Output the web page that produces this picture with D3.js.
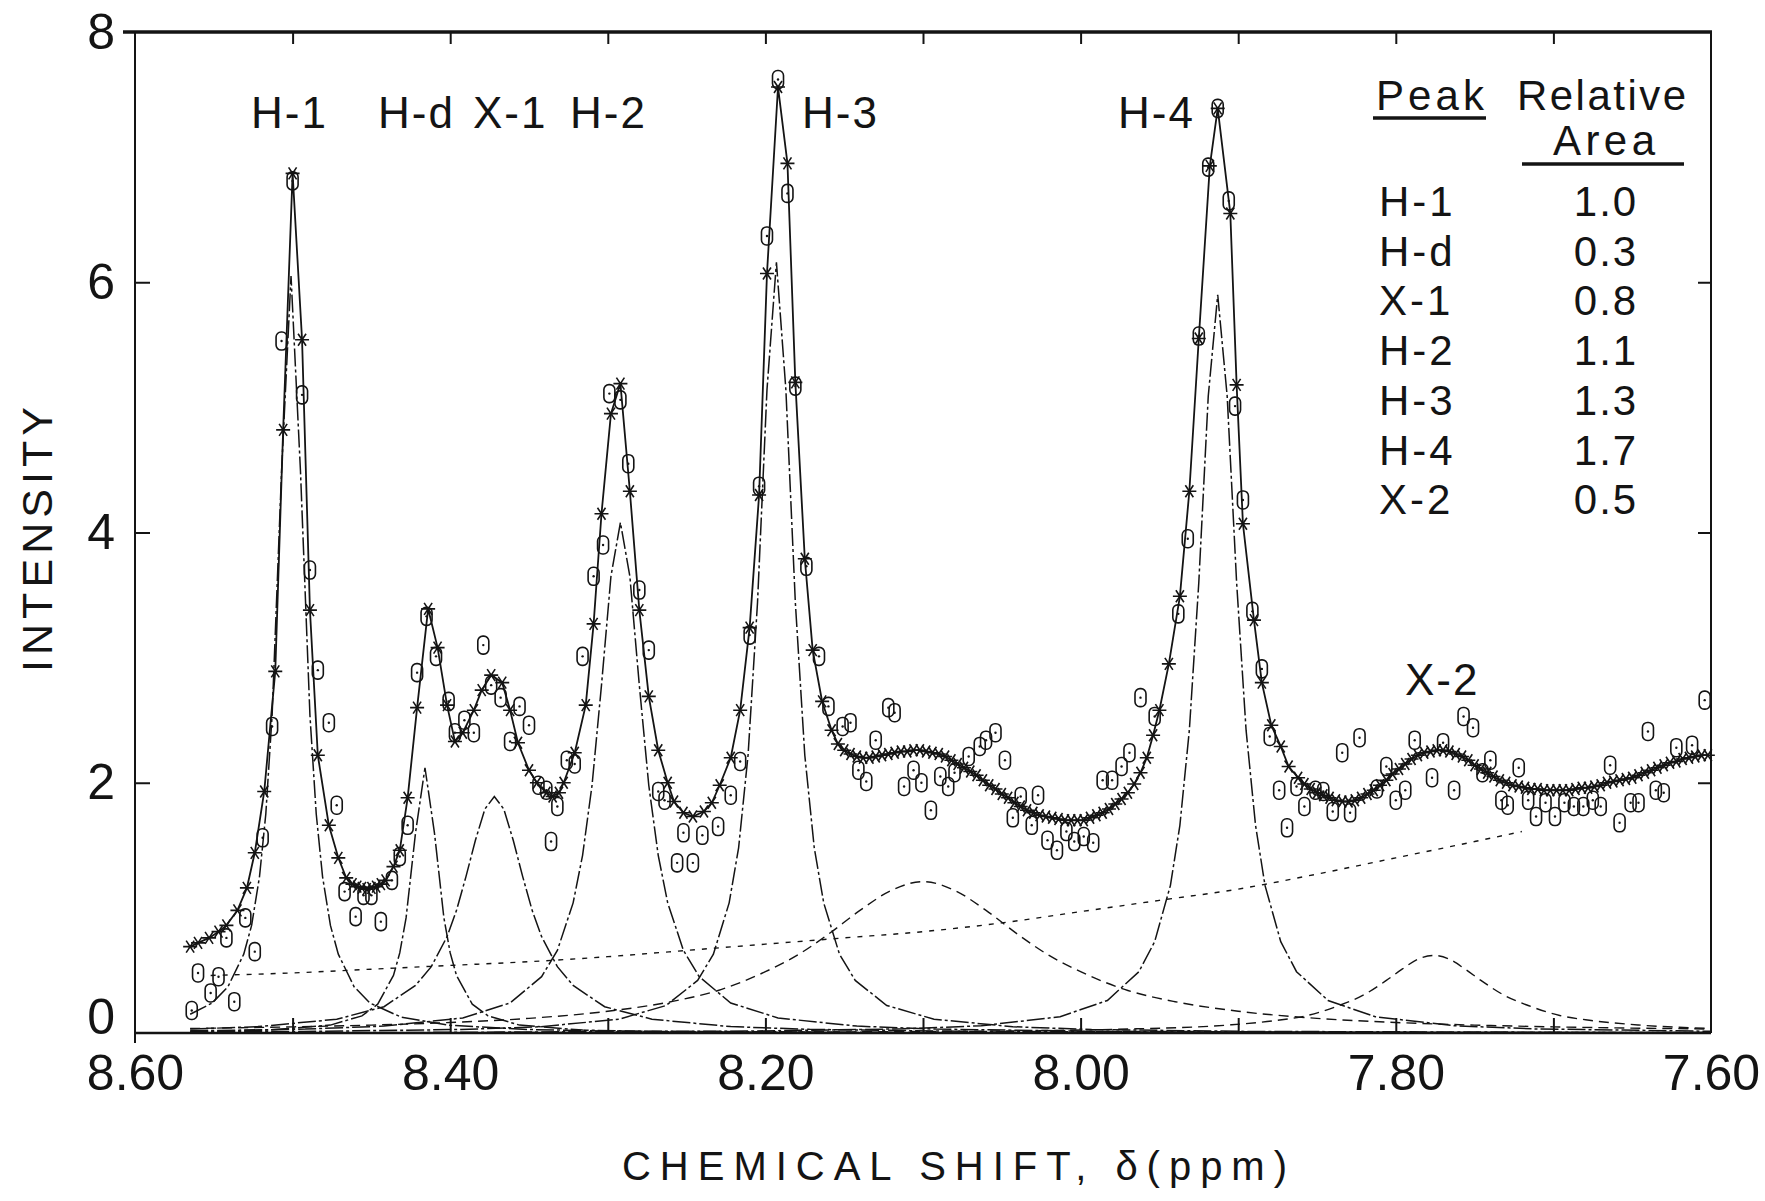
<!DOCTYPE html>
<html>
<head>
<meta charset="utf-8">
<script src="https://cdn.jsdelivr.net/npm/d3@7"></script>
<style>
    body { margin: 0; background: #fff; }
    svg text { font-family: "Liberation Sans", Arial, sans-serif; fill: #141414; }
</style>
</head>
<body>
<svg id="chart"></svg>
<script>
// ---- axis ticks ----
const shiftTickLabels = [8.6, 8.4, 8.2, 8.0, 7.8, 7.6];
const shiftMinorTicks = [8.5, 8.4, 8.3, 8.2, 8.1, 8.0, 7.9, 7.8, 7.7];
const intensityTicks = [0, 2, 4, 6, 8];
const intensityInnerTicks = [2, 4, 6];

// ---- table of peaks ----
const peakNames = ["H-1", "H-d", "X-1", "H-2", "H-3", "H-4", "X-2"];
const relativeArea = ["1.0", "0.3", "0.8", "1.1", "1.3", "1.7", "0.5"];

// ---- observed spectrum (shift ppm, intensity) ----
const observed = [
    [8.564,0.18],[8.560,0.48],[8.552,0.32],[8.547,0.45],[8.542,0.76],[8.537,0.25],[8.530,0.92],[8.524,0.65],
    [8.519,1.56],[8.513,2.45],[8.507,5.53],[8.500,6.81],[8.494,5.10],[8.489,3.70],[8.484,2.90],[8.477,2.48],
    [8.472,1.82],[8.467,1.13],[8.460,0.93],[8.455,1.10],[8.450,1.10],[8.444,0.89],[8.437,1.22],[8.432,1.41],
    [8.427,1.66],[8.421,2.88],[8.415,3.33],[8.409,3.01],[8.401,2.65],[8.397,2.40],[8.391,2.50],[8.385,2.40],
    [8.379,3.10],[8.374,2.78],[8.368,2.68],[8.362,2.33],[8.356,2.61],[8.350,2.46],[8.344,1.98],[8.339,1.94],
    [8.336,1.53],[8.332,1.81],[8.326,2.18],[8.321,2.15],[8.316,3.01],[8.309,3.65],[8.303,3.90],[8.299,5.11],
    [8.292,5.06],[8.287,4.55],[8.280,3.54],[8.274,3.06],[8.268,1.93],[8.264,1.86],[8.256,1.36],[8.252,1.60],
    [8.246,1.36],[8.240,1.58],[8.230,1.65],[8.222,1.90],[8.216,2.17],[8.210,3.18],[8.204,4.37],[8.199,6.37],
    [8.192,7.62],[8.186,6.71],[8.181,5.17],[8.174,3.73],[8.166,3.01],[8.160,2.61],[8.151,2.45],[8.146,2.48],
    [8.141,2.10],[8.136,2.01],[8.130,2.34],[8.122,2.60],[8.118,2.56],[8.112,1.97],[8.106,2.10],[8.101,2.00],
    [8.095,1.78],[8.089,2.05],[8.084,1.97],[8.080,2.08],[8.071,2.21],[8.064,2.29],[8.060,2.34],[8.054,2.40],
    [8.048,2.18],[8.043,1.72],[8.038,1.89],[8.031,1.66],[8.027,1.90],[8.021,1.54],[8.015,1.46],[8.009,1.61],
    [8.004,1.53],[7.998,1.57],[7.992,1.52],[7.986,2.02],[7.980,2.02],[7.974,2.13],[7.969,2.24],[7.962,2.68],
    [7.953,2.53],[7.938,3.35],[7.932,3.95],[7.925,5.57],[7.919,6.92],[7.913,7.39],[7.906,6.65],[7.902,5.01],
    [7.897,4.26],[7.891,3.37],[7.885,2.91],[7.880,2.37],[7.874,1.94],[7.869,1.64],[7.863,1.97],[7.858,1.81],
    [7.851,1.94],[7.846,1.93],[7.840,1.77],[7.834,2.24],[7.829,1.76],[7.823,2.36],[7.812,1.95],[7.806,2.13],
    [7.800,1.86],[7.794,1.94],[7.788,2.34],[7.777,2.04],[7.770,2.32],[7.763,1.94],[7.757,2.53],[7.751,2.44],
    [7.745,2.08],[7.740,2.18],[7.733,1.86],[7.729,1.82],[7.722,2.12],[7.716,1.86],[7.711,1.73],[7.705,1.84],
    [7.699,1.73],[7.693,1.84],[7.687,1.81],[7.681,1.81],[7.675,1.86],[7.670,1.81],[7.664,2.14],[7.658,1.68],
    [7.651,1.84],[7.646,1.84],[7.640,2.41],[7.635,1.94],[7.630,1.92],[7.622,2.28],[7.612,2.30],[7.604,2.66]
];

// ---- fitted sum (asterisks + solid line) ----
const fitted = [
    [8.565,0.69],[8.560,0.72],[8.553,0.76],[8.547,0.81],[8.542,0.86],[8.535,0.98],[8.529,1.16],[8.524,1.44],
    [8.518,1.93],[8.511,2.89],[8.506,4.82],[8.500,6.87],[8.494,5.54],[8.489,3.38],[8.484,2.22],[8.477,1.66],
    [8.471,1.40],[8.466,1.24],[8.462,1.19],[8.459,1.17],[8.456,1.16],[8.453,1.15],[8.450,1.16],[8.447,1.17],
    [8.444,1.19],[8.441,1.22],[8.436,1.33],[8.432,1.46],[8.427,1.88],[8.421,2.60],[8.414,3.39],[8.408,3.08],
    [8.402,2.62],[8.397,2.33],[8.392,2.40],[8.385,2.58],[8.380,2.74],[8.374,2.86],[8.367,2.80],[8.362,2.58],
    [8.357,2.32],[8.350,2.10],[8.345,2.00],[8.339,1.92],[8.335,1.89],[8.331,1.92],[8.328,2.00],[8.321,2.24],
    [8.314,2.62],[8.309,3.27],[8.304,4.15],[8.298,4.95],[8.292,5.19],[8.286,4.33],[8.280,3.38],[8.274,2.69],
    [8.268,2.26],[8.262,2.00],[8.258,1.85],[8.252,1.76],[8.246,1.73],[8.239,1.77],[8.234,1.84],[8.229,1.98],
    [8.222,2.20],[8.216,2.58],[8.210,3.24],[8.204,4.30],[8.199,6.07],[8.192,7.56],[8.186,6.95],[8.181,5.20],
    [8.175,3.79],[8.170,3.06],[8.164,2.65],[8.158,2.42],[8.154,2.31],[8.150,2.26],[8.146,2.23],[8.142,2.21],
    [8.138,2.20],[8.134,2.20],[8.130,2.21],[8.126,2.22],[8.122,2.23],[8.118,2.24],[8.114,2.25],[8.110,2.25],
    [8.106,2.26],[8.102,2.26],[8.098,2.25],[8.094,2.24],[8.090,2.23],[8.086,2.21],[8.082,2.18],[8.078,2.15],
    [8.074,2.12],[8.070,2.09],[8.066,2.06],[8.062,2.02],[8.058,1.98],[8.054,1.95],[8.050,1.91],[8.046,1.88],
    [8.042,1.84],[8.038,1.81],[8.034,1.78],[8.030,1.76],[8.026,1.74],[8.022,1.73],[8.018,1.72],[8.014,1.71],
    [8.010,1.70],[8.006,1.70],[8.002,1.70],[7.998,1.70],[7.994,1.72],[7.990,1.74],[7.986,1.76],[7.982,1.79],
    [7.978,1.83],[7.974,1.87],[7.970,1.92],[7.966,1.99],[7.962,2.08],[7.958,2.20],[7.954,2.38],[7.950,2.58],
    [7.944,2.95],[7.937,3.49],[7.931,4.33],[7.925,5.55],[7.918,6.93],[7.913,7.39],[7.905,6.55],[7.901,5.18],
    [7.897,4.07],[7.890,3.30],[7.885,2.80],[7.879,2.46],[7.873,2.29],[7.868,2.13],[7.862,2.04],[7.858,1.99],
    [7.854,1.95],[7.850,1.92],[7.846,1.90],[7.842,1.88],[7.838,1.86],[7.834,1.85],[7.830,1.85],[7.826,1.86],
    [7.822,1.88],[7.818,1.91],[7.814,1.94],[7.810,1.98],[7.806,2.02],[7.802,2.07],[7.798,2.11],[7.794,2.15],
    [7.790,2.19],[7.786,2.22],[7.782,2.24],[7.778,2.25],[7.774,2.26],[7.770,2.26],[7.766,2.25],[7.762,2.23],
    [7.758,2.21],[7.754,2.18],[7.750,2.14],[7.746,2.11],[7.742,2.08],[7.738,2.05],[7.734,2.02],[7.730,2.00],
    [7.726,1.98],[7.722,1.97],[7.718,1.96],[7.714,1.95],[7.710,1.95],[7.706,1.94],[7.702,1.94],[7.698,1.94],
    [7.694,1.94],[7.690,1.94],[7.686,1.95],[7.682,1.96],[7.678,1.96],[7.674,1.97],[7.670,1.98],[7.666,2.00],
    [7.662,2.01],[7.658,2.02],[7.654,2.03],[7.650,2.04],[7.646,2.06],[7.642,2.08],[7.638,2.10],[7.634,2.12],
    [7.630,2.14],[7.626,2.16],[7.622,2.17],[7.618,2.19],[7.614,2.20],[7.610,2.21],[7.606,2.22],[7.602,2.22]
];

// ---- component lines ----
const compH1 = [
    [8.565,0.15],[8.551,0.24],[8.541,0.37],[8.531,0.63],[8.526,0.86],[8.521,1.25],[8.517,1.75],[8.513,2.54],
    [8.507,4.49],[8.501,6.05],[8.495,4.49],[8.489,2.54],[8.485,1.75],[8.481,1.25],[8.476,0.86],[8.471,0.63],
    [8.461,0.37],[8.451,0.24],[8.431,0.126],[8.401,0.062],[8.351,0.028],[8.301,0.016],[8.100,0.004],[7.600,0.001]
];
const compHd = [
    [8.565,0.011],[8.516,0.023],[8.476,0.063],[8.456,0.137],[8.446,0.23],[8.436,0.46],[8.432,0.64],[8.428,0.92],
    [8.422,1.60],[8.416,2.12],[8.410,1.60],[8.404,0.92],[8.400,0.64],[8.396,0.46],[8.386,0.23],[8.376,0.137],
    [8.356,0.063],[8.316,0.023],[8.266,0.010],[8.116,0.003],[7.600,0.0004]
];
const compX1 = [
    [8.565,0.031],[8.522,0.051],[8.472,0.11],[8.442,0.21],[8.422,0.38],[8.412,0.53],[8.402,0.77],[8.396,0.98],
    [8.390,1.25],[8.384,1.54],[8.378,1.79],[8.372,1.89],[8.366,1.79],[8.360,1.54],[8.354,1.25],[8.348,0.98],
    [8.342,0.77],[8.332,0.53],[8.322,0.38],[8.302,0.21],[8.272,0.11],[8.222,0.051],[8.172,0.029],[8.072,0.013],
    [7.872,0.005],[7.600,0.002]
];
const compH2 = [
    [8.565,0.017],[8.492,0.031],[8.442,0.055],[8.392,0.12],[8.362,0.24],[8.342,0.45],[8.332,0.66],[8.322,1.04],
    [8.316,1.42],[8.310,1.98],[8.304,2.78],[8.298,3.65],[8.292,4.08],[8.286,3.65],[8.280,2.78],[8.274,1.98],
    [8.268,1.42],[8.262,1.04],[8.252,0.66],[8.242,0.45],[8.222,0.24],[8.192,0.12],[8.142,0.055],[8.092,0.031],
    [7.992,0.014],[7.792,0.005],[7.600,0.003]
];
const compH3 = [
    [8.565,0.008],[8.493,0.0125],[8.393,0.028],[8.343,0.050],[8.293,0.11],[8.263,0.22],[8.243,0.42],[8.233,0.63],
    [8.223,1.04],[8.217,1.48],[8.211,2.22],[8.205,3.44],[8.199,5.14],[8.193,6.16],[8.187,5.14],[8.181,3.44],
    [8.175,2.22],[8.169,1.48],[8.163,1.04],[8.153,0.63],[8.143,0.42],[8.123,0.22],[8.093,0.11],[8.043,0.050],
    [7.993,0.028],[7.893,0.0125],[7.600,0.003]
];
const compH4 = [
    [8.565,0.003],[8.413,0.005],[8.213,0.015],[8.113,0.033],[8.063,0.058],[8.013,0.13],[7.983,0.26],[7.963,0.49],
    [7.953,0.73],[7.943,1.18],[7.937,1.66],[7.931,2.42],[7.925,3.60],[7.919,5.09],[7.913,5.90],[7.907,5.09],
    [7.901,3.60],[7.895,2.42],[7.889,1.66],[7.883,1.18],[7.873,0.73],[7.863,0.49],[7.843,0.26],[7.813,0.13],
    [7.763,0.058],[7.713,0.033],[7.600,0.0135]
];
const compX2 = [
    [8.565,0.002],[8.276,0.005],[8.076,0.014],[7.976,0.030],[7.906,0.064],[7.876,0.10],[7.856,0.14],[7.836,0.22],
    [7.821,0.30],[7.806,0.42],[7.796,0.51],[7.786,0.59],[7.776,0.62],[7.766,0.59],[7.756,0.51],[7.746,0.42],
    [7.731,0.30],[7.716,0.22],[7.696,0.14],[7.676,0.10],[7.646,0.064],[7.600,0.036]
];
const compBroad = [
    [8.565,0.036],[8.50,0.049],[8.45,0.063],[8.40,0.084],[8.35,0.117],[8.30,0.174],[8.26,0.25],[8.23,0.34],
    [8.20,0.49],[8.18,0.62],[8.16,0.79],[8.14,0.98],[8.12,1.14],[8.10,1.21],[8.08,1.14],[8.06,0.98],
    [8.04,0.79],[8.02,0.62],[8.00,0.49],[7.97,0.34],[7.94,0.25],[7.90,0.174],[7.85,0.117],[7.80,0.084],
    [7.75,0.063],[7.70,0.049],[7.60,0.032]
];
const baselineCurve = [
    [8.552,0.46],[8.50,0.48],[8.45,0.51],[8.40,0.54],[8.35,0.57],[8.30,0.61],[8.25,0.66],[8.20,0.71],
    [8.15,0.76],[8.10,0.81],[8.05,0.88],[8.00,0.97],[7.95,1.06],[7.90,1.15],[7.85,1.27],[7.80,1.40],
    [7.75,1.53],[7.72,1.61]
];

// layout only (pixels): where the peak names sit
const peakLabelPos = [[251,128],[378,128],[473,128],[570,128],[802,128],[1118,128],[1405,695]];

class SpectrumChart {
    constructor(_config) {
        this.config = {
            parentElement: _config.parentElement,
            containerWidth: _config.containerWidth || 1765,
            containerHeight: _config.containerHeight || 1201,
            margin: _config.margin || {top: 32, right: 54, bottom: 168, left: 135}
        };
        this.initVis();
    }

    initVis() {
        let vis = this;

        vis.width = vis.config.containerWidth - vis.config.margin.left - vis.config.margin.right;
        vis.height = vis.config.containerHeight - vis.config.margin.top - vis.config.margin.bottom;

        // chemical shift runs right-to-left
        vis.xScale = d3.scaleLinear().domain([8.6, 7.6]).range([0, vis.width]);
        vis.yScale = d3.scaleLinear().domain([0, 8]).range([vis.height, 0]);

        vis.svg = d3.select(vis.config.parentElement)
            .attr('width', vis.config.containerWidth)
            .attr('height', vis.config.containerHeight);

        vis.svg.append('rect')
            .attr('width', vis.config.containerWidth)
            .attr('height', vis.config.containerHeight)
            .attr('fill', '#fff');

        vis.chart = vis.svg.append('g')
            .attr('transform', `translate(${vis.config.margin.left},${vis.config.margin.top})`);

        vis.renderVis();
    }

    renderVis() {
        let vis = this;
        const ink = '#141414';

        // ---- axes: labels outside, ticks pointing in ----
        const xLabels = d3.axisBottom(vis.xScale)
            .tickValues(shiftTickLabels)
            .tickFormat(d3.format('.2f'))
            .tickSizeInner(0).tickSizeOuter(0).tickPadding(21);
        const xMinorBottom = d3.axisBottom(vis.xScale)
            .tickValues(shiftMinorTicks).tickFormat('')
            .tickSizeInner(-15).tickSizeOuter(0);
        const xMinorTop = d3.axisTop(vis.xScale)
            .tickValues(shiftMinorTicks).tickFormat('')
            .tickSizeInner(-12).tickSizeOuter(0);
        const yLeft = d3.axisLeft(vis.yScale)
            .tickValues(intensityTicks)
            .tickFormat(d3.format('d'))
            .tickSizeInner(0).tickSizeOuter(0).tickPadding(20);
        const yLeftTicks = d3.axisLeft(vis.yScale)
            .tickValues(intensityInnerTicks).tickFormat('')
            .tickSizeInner(-15).tickSizeOuter(0);
        const yRightTicks = d3.axisRight(vis.yScale)
            .tickValues(intensityInnerTicks).tickFormat('')
            .tickSizeInner(-13).tickSizeOuter(0);

        const xLabelG = vis.chart.append('g').attr('transform', `translate(0,${vis.height})`).call(xLabels);
        const yLabelG = vis.chart.append('g').call(yLeft);
        const axisGroups = [
            xLabelG,
            vis.chart.append('g').attr('transform', `translate(0,${vis.height})`).call(xMinorBottom),
            vis.chart.append('g').call(xMinorTop),
            yLabelG,
            vis.chart.append('g').call(yLeftTicks),
            vis.chart.append('g').attr('transform', `translate(${vis.width},0)`).call(yRightTicks)
        ];
        axisGroups.forEach(g => {
            g.select('.domain').remove();
            g.selectAll('line').attr('stroke', ink).attr('stroke-width', 2);
            g.selectAll('text')
                .style('font-family', '"Liberation Sans", Arial, sans-serif')
                .style('font-size', '50px')
                .attr('fill', ink);
        });
        // the "0" sits on the baseline so it clears "8.60" below it
        yLabelG.selectAll('.tick text').filter(d => d === 0).attr('dy', '0em');

        // ---- frame ----
        const frame = vis.chart.append('g').attr('stroke', ink).attr('fill', 'none');
        frame.append('line').attr('x1', -12).attr('x2', vis.width + 1).attr('y1', 0).attr('y2', 0).attr('stroke-width', 3.5);
        frame.append('line').attr('x1', 0).attr('x2', 0).attr('y1', 0).attr('y2', vis.height + 10).attr('stroke-width', 2);
        frame.append('line').attr('x1', vis.width).attr('x2', vis.width).attr('y1', 0).attr('y2', vis.height).attr('stroke-width', 2);
        frame.append('line').attr('x1', 0).attr('x2', vis.width).attr('y1', vis.height).attr('y2', vis.height).attr('stroke-width', 2.5);

        const line = d3.line()
            .x(d => vis.xScale(d[0]))
            .y(d => vis.yScale(d[1]));
        // monotoneX needs increasing x in data order, so flip the shift sign with a mirrored scale
        const mirrored = vis.xScale.copy().domain([-8.6, -7.6]);
        const smoothLine = d3.line()
            .curve(d3.curveMonotoneX)
            .x(d => mirrored(-d[0]))
            .y(d => vis.yScale(d[1]));

        // ---- baseline and broad components ----
        vis.chart.append('path')
            .datum(baselineCurve)
            .attr('d', smoothLine)
            .attr('fill', 'none').attr('stroke', ink)
            .attr('stroke-width', 1.4).attr('stroke-dasharray', '5,7');

        [compBroad, compX2].forEach(c => {
            vis.chart.append('path')
                .datum(c)
                .attr('d', smoothLine)
                .attr('fill', 'none').attr('stroke', ink)
                .attr('stroke-width', 1.4).attr('stroke-dasharray', '10,6');
        });

        // ---- narrow Lorentzian components ----
        [compH1, compHd, compX1, compH2, compH3, compH4].forEach(c => {
            vis.chart.append('path')
                .datum(c)
                .attr('d', line)
                .attr('fill', 'none').attr('stroke', ink)
                .attr('stroke-width', 1.5).attr('stroke-dasharray', '18,3,3,3');
        });

        // ---- fitted sum ----
        vis.chart.append('path')
            .datum(fitted)
            .attr('d', line)
            .attr('fill', 'none').attr('stroke', ink)
            .attr('stroke-width', 1.8);

        vis.chart.selectAll('.fit-star')
            .data(fitted)
            .join('path')
            .attr('class', 'fit-star')
            .attr('transform', d => `translate(${vis.xScale(d[0])},${vis.yScale(d[1])})`)
            .attr('d', 'M-7,0H7M-4,-6L4,6M-4,6L4,-6')
            .attr('fill', 'none').attr('stroke', ink).attr('stroke-width', 1.6);

        // ---- observed points: small "0" with a centre dot ----
        const obs = vis.chart.selectAll('.obs')
            .data(observed)
            .join('g')
            .attr('class', 'obs')
            .attr('transform', d => `translate(${vis.xScale(d[0])},${vis.yScale(d[1])})`);
        obs.append('rect')
            .attr('x', -5.5).attr('y', -9).attr('width', 11).attr('height', 18).attr('rx', 5)
            .attr('fill', 'none').attr('stroke', ink).attr('stroke-width', 1.6);
        obs.append('circle').attr('r', 1.2).attr('fill', ink);

        // ---- peak names above the peaks ----
        vis.svg.selectAll('.peak-label')
            .data(peakNames)
            .join('text')
            .attr('class', 'peak-label')
            .attr('x', (d, i) => peakLabelPos[i][0])
            .attr('y', (d, i) => peakLabelPos[i][1])
            .attr('letter-spacing', 2)
            .style('font-size', '44px')
            .text(d => d);

        // ---- peak / relative area table ----
        const table = vis.svg.append('g').attr('class', 'area-table');
        table.append('text').attr('x', 1376).attr('y', 110).attr('textLength', 108)
            .style('font-size', '42px').text('Peak');
        table.append('line').attr('x1', 1373).attr('x2', 1486).attr('y1', 118).attr('y2', 118)
            .attr('stroke', ink).attr('stroke-width', 3.5);
        table.append('text').attr('x', 1517).attr('y', 110).attr('textLength', 169)
            .style('font-size', '42px').text('Relative');
        table.append('text').attr('x', 1553).attr('y', 155).attr('textLength', 102)
            .style('font-size', '42px').text('Area');
        table.append('line').attr('x1', 1522).attr('x2', 1684).attr('y1', 164).attr('y2', 164)
            .attr('stroke', ink).attr('stroke-width', 3.5);

        table.selectAll('.row-name')
            .data(peakNames)
            .join('text')
            .attr('class', 'row-name')
            .attr('x', 1379)
            .attr('y', (d, i) => 216 + i * 49.7)
            .attr('letter-spacing', 3)
            .style('font-size', '42px')
            .text(d => d);
        table.selectAll('.row-area')
            .data(relativeArea)
            .join('text')
            .attr('class', 'row-area')
            .attr('x', 1606)
            .attr('y', (d, i) => 216 + i * 49.7)
            .attr('text-anchor', 'middle')
            .attr('letter-spacing', 2)
            .style('font-size', '42px')
            .text(d => d);

        // ---- axis titles ----
        vis.svg.append('text')
            .attr('x', 622).attr('y', 1180)
            .attr('textLength', 665).attr('lengthAdjust', 'spacing')
            .style('font-size', '40px')
            .text('CHEMICAL SHIFT, δ(ppm)');

        vis.svg.append('text')
            .attr('transform', 'translate(52,672) rotate(-90)')
            .attr('textLength', 265).attr('lengthAdjust', 'spacing')
            .style('font-size', '43px')
            .text('INTENSITY');
    }
}

new SpectrumChart({ parentElement: '#chart' });
</script>
</body>
</html>
